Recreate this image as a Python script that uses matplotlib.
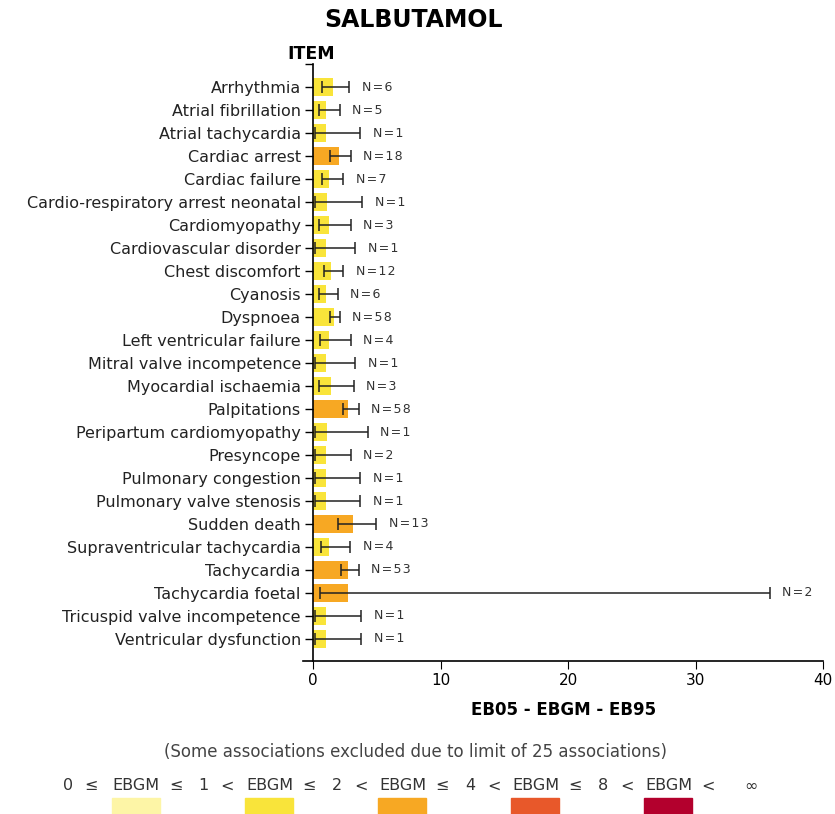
import numpy as np
import matplotlib
matplotlib.use("Agg")
from matplotlib import pyplot as plt

items = ["Arrhythmia", "Atrial fibrillation", "Atrial tachycardia", "Cardiac arrest",
         "Cardiac failure", "Cardio-respiratory arrest neonatal", "Cardiomyopathy",
         "Cardiovascular disorder", "Chest discomfort", "Cyanosis", "Dyspnoea",
         "Left ventricular failure", "Mitral valve incompetence", "Myocardial ischaemia",
         "Palpitations", "Peripartum cardiomyopathy", "Presyncope", "Pulmonary congestion",
         "Pulmonary valve stenosis", "Sudden death", "Supraventricular tachycardia",
         "Tachycardia", "Tachycardia foetal", "Tricuspid valve incompetence",
         "Ventricular dysfunction"]
ebgm = [1.51, 1.02, 1.02, 2.05, 1.26, 1.07, 1.26, 1.02, 1.39, 1.02, 1.62, 1.26, 1.02,
        1.39, 2.72, 1.07, 1.02, 1.02, 1.02, 3.08, 1.26, 2.72, 2.72, 1.02, 1.02]
eb05 = [0.71, 0.42, 0.16, 1.28, 0.65, 0.16, 0.42, 0.16, 0.81, 0.42, 1.31, 0.55, 0.16,
        0.42, 2.30, 0.16, 0.16, 0.16, 0.16, 1.93, 0.60, 2.17, 0.55, 0.16, 0.16]
eb95 = [2.82, 2.07, 3.69, 2.95, 2.33, 3.82, 2.95, 3.30, 2.33, 1.93, 2.07, 2.95, 3.30,
        3.16, 3.58, 4.26, 2.95, 3.69, 3.69, 4.92, 2.90, 3.56, 35.8, 3.76, 3.76]
counts = [6, 5, 1, 18, 7, 1, 3, 1, 12, 6, 58, 4, 1, 3, 58, 1, 2, 1, 1, 13, 4, 53, 2, 1, 1]

bounds = [1, 2, 4, 8]
palette = ["#FDF5A6", "#F9E43A", "#F7A823", "#E8582A", "#B3002D"]


def band_color(v):
    for b, c in zip(bounds, palette):
        if v <= b:
            return c
    return palette[-1]


def spaced(s):
    # wide letter spacing for the count labels
    return "\u200a".join(s)


plt.rcParams['font.family'] = 'DejaVu Sans'

fig = plt.figure(figsize=(8.35, 8.14), dpi=100)
ax = fig.add_axes([0.363, 0.188, 0.623, 0.733])

y = np.arange(len(items))
ax.barh(y, ebgm, height=0.8, color=[band_color(v) for v in ebgm], zorder=1)
ax.errorbar(ebgm, y, xerr=[np.array(ebgm) - np.array(eb05), np.array(eb95) - np.array(ebgm)],
            fmt='none', ecolor='#222222', elinewidth=1.1, capsize=4, capthick=1.1, zorder=2)
for yi, hi, n in zip(y, eb95, counts):
    ax.annotate(spaced(f"N={n}"), (hi, yi), xytext=(9, 0), textcoords='offset points',
                va='center', ha='left', fontsize=9, color='#333333')

ax.set_xlim(-0.8, 40)
ax.set_ylim(len(items) - 0.04, -1.0)
ax.spines['left'].set_position(('data', 0))
ax.spines['top'].set_visible(False)
ax.spines['right'].set_visible(False)
ax.spines['left'].set_linewidth(1.2)
ax.spines['bottom'].set_linewidth(1.2)
ax.set_yticks(y)
ax.set_yticks([-1.0], minor=True)
ax.set_yticklabels(items, fontsize=11.5, color='#222222')
ax.set_xticks([0, 10, 20, 30, 40])
ax.tick_params(axis='y', which='both', length=6, pad=3, width=1)
ax.tick_params(axis='x', length=6, labelsize=11, pad=3)

ax.set_xlabel("EB05 - EBGM - EB95", fontsize=12, fontweight='bold', labelpad=9)
fig.text(0.495, 0.975, "SALBUTAMOL", ha='center', va='center', fontsize=17, fontweight='bold')
fig.text(0.373, 0.934, "ITEM", ha='center', va='center', fontsize=12.5, fontweight='bold')
fig.text(0.498, 0.076, "(Some associations excluded due to limit of 25 associations)",
         ha='center', va='center', fontsize=12, color='#444444')

# colour key along the bottom
parts = [(68, "0"), (91, "≤"), (136, "EBGM"), (176, "≤"), (203, "1"), (227, "<"),
         (270, "EBGM"), (309, "≤"), (337, "2"), (361, "<"), (403, "EBGM"), (442, "≤"),
         (470, "4"), (494, "<"), (536, "EBGM"), (575, "≤"), (603, "8"), (627, "<"),
         (669, "EBGM"), (708, "<"), (751, "∞")]
for px, s in parts:
    fig.text(px / 835, 1 - 786 / 814, s, ha='center', va='center', fontsize=11.5,
             color='#333333')
for i, c in enumerate(palette):
    fig.patches.append(plt.Rectangle(((112 + 133 * i) / 835, 0), 48 / 835, 16 / 814,
                                     transform=fig.transFigure, color=c, figure=fig))

fig.savefig("out.png", dpi=100)
